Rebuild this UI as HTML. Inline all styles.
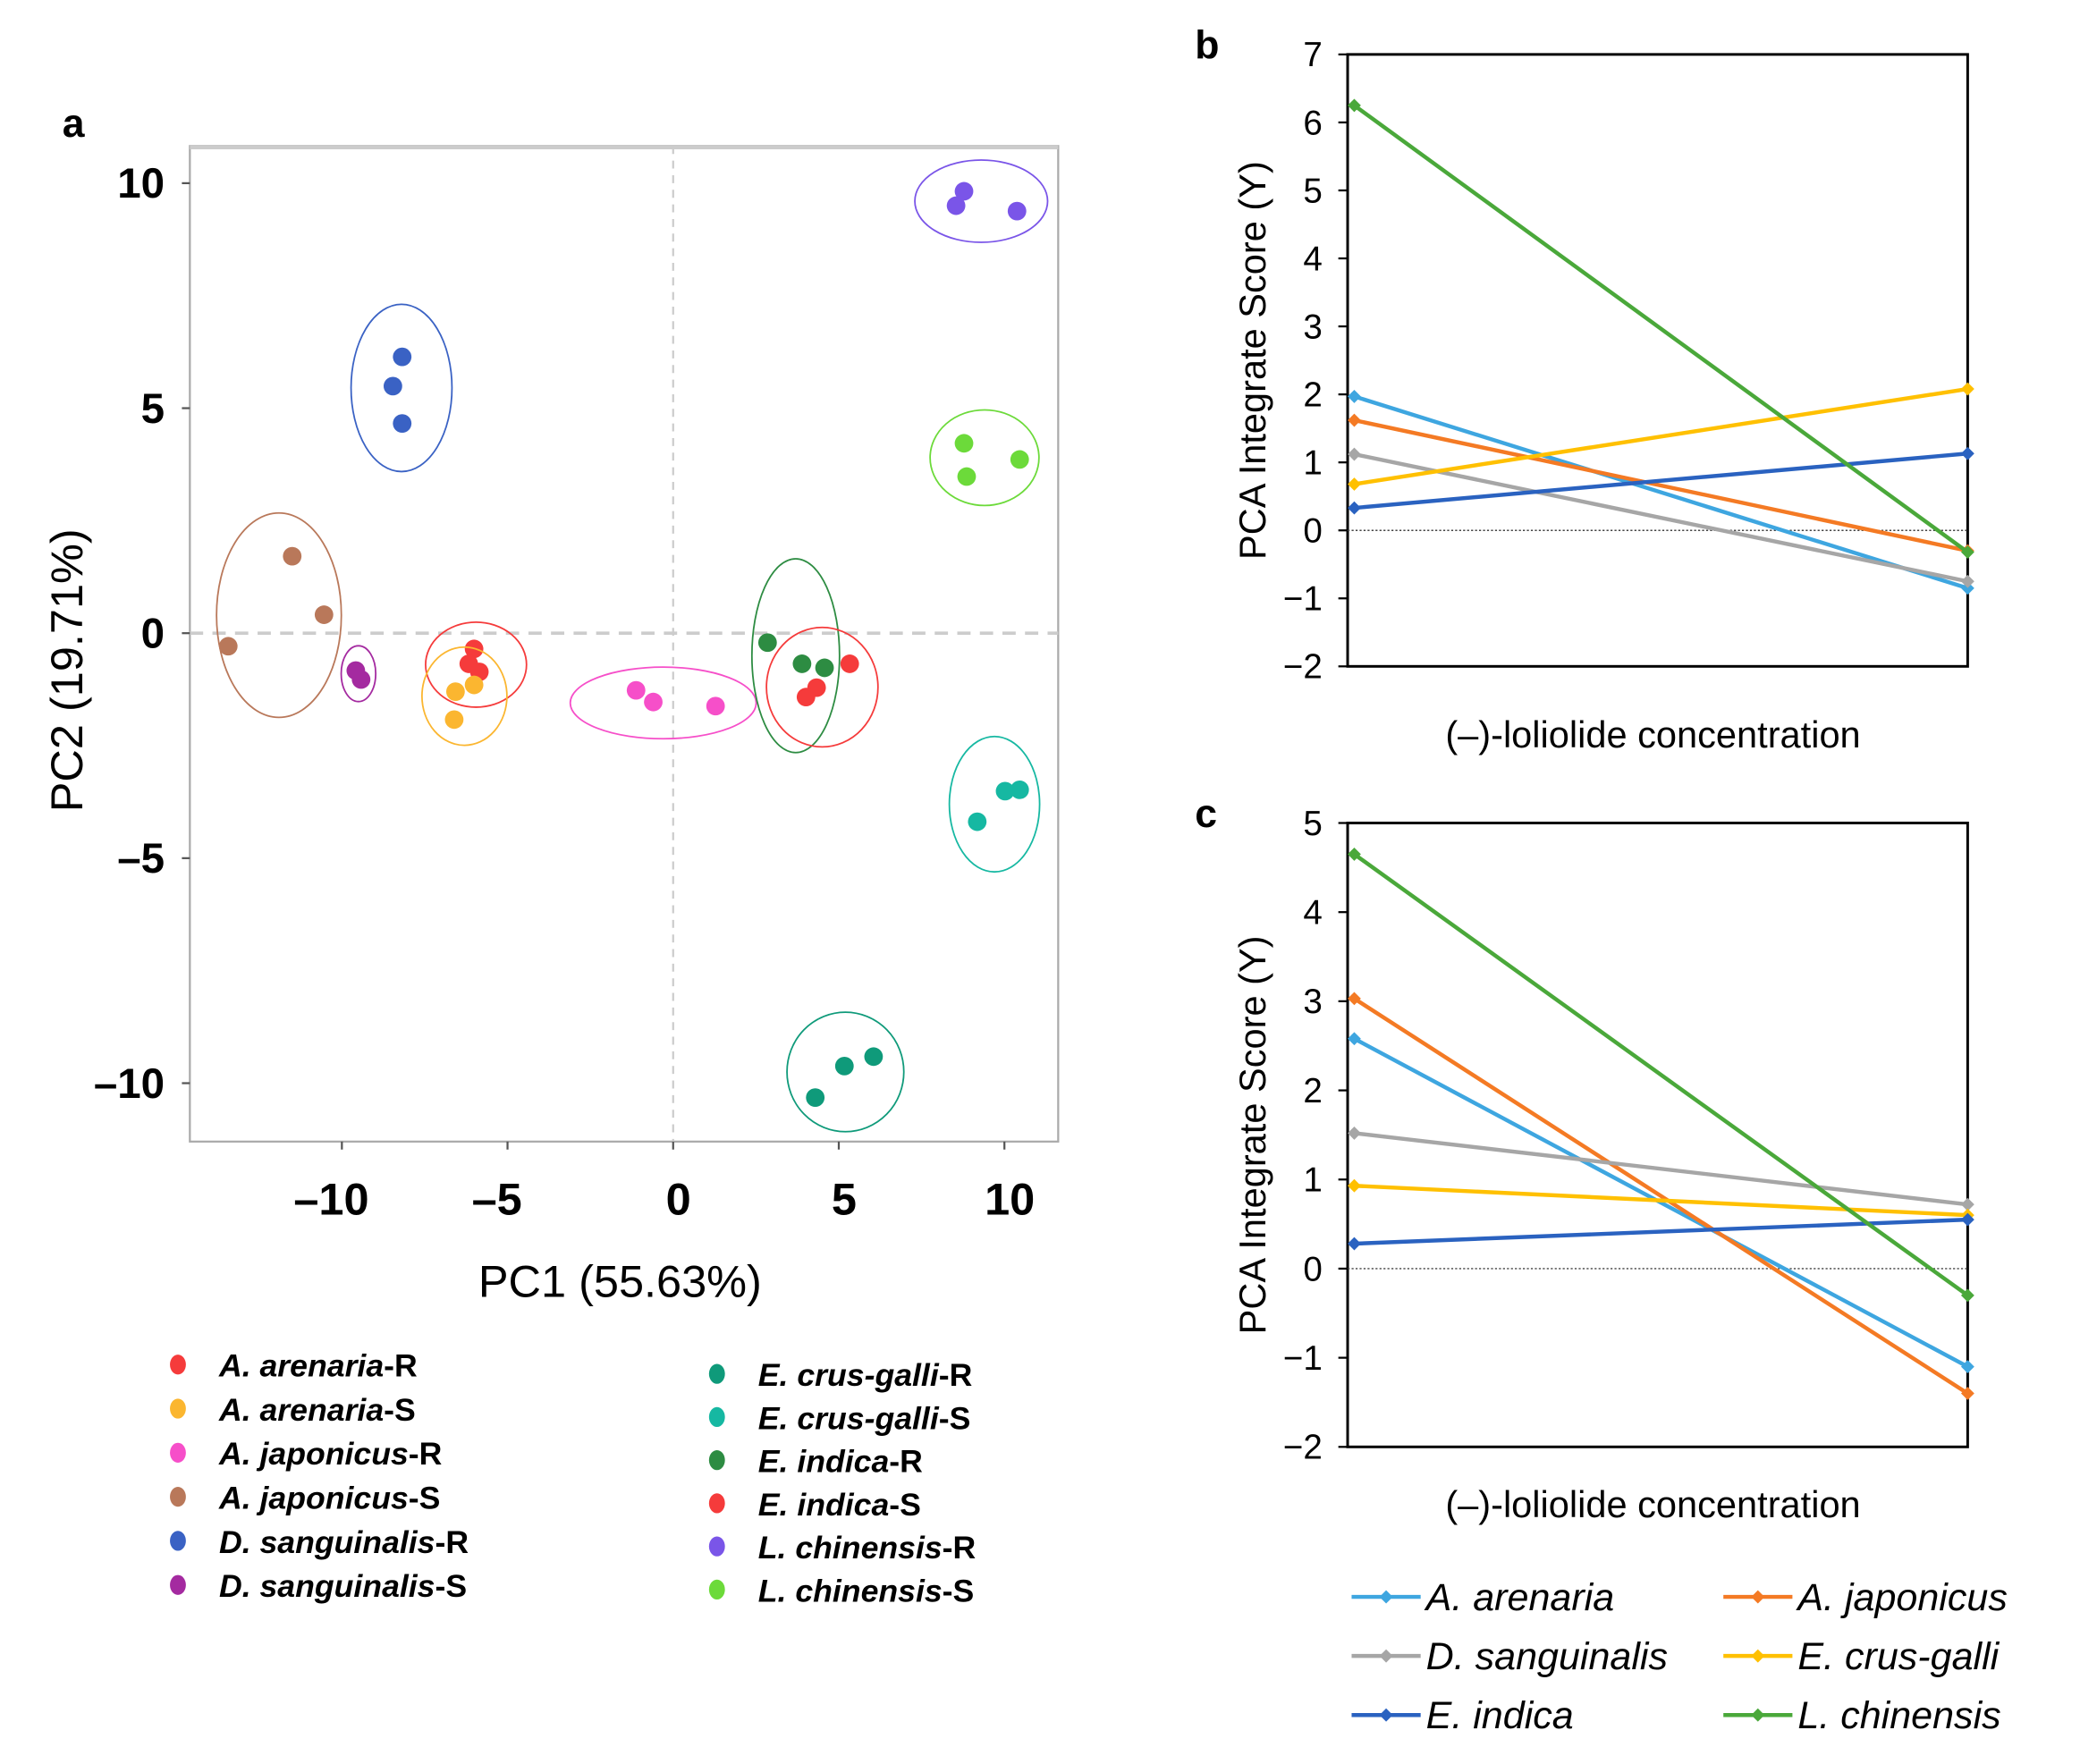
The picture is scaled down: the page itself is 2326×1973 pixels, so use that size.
<!DOCTYPE html>
<html><head><meta charset="utf-8"><style>
html,body{margin:0;padding:0;background:#fff;}
svg{display:block;}
text{font-family:"Liberation Sans",sans-serif;}
</style></head><body>
<svg id="fig" width="2326" height="1973" viewBox="0 0 1566.6 1328.9" preserveAspectRatio="none" xmlns="http://www.w3.org/2000/svg"></svg>
<script>
// ---- Panel a data ----
const groupNames = ["A. arenaria-R","A. arenaria-S","A. japonicus-R","A. japonicus-S","D. sanguinalis-R","D. sanguinalis-S","E. crus-galli-R","E. crus-galli-S","E. indica-R","E. indica-S","L. chinensis-R","L. chinensis-S"];
const groupColors = ["#f53b3b","#fbb630","#f64fc9","#b9785a","#3a62c4","#a42aa0","#0f9a7a","#16b8a2","#2d8c42","#f53b3b","#7a55e8","#6cda3a"];
const pcX = [[-6.01,-6.17,-5.85],[-6.57,-6.01,-6.61],[-1.12,-0.6,1.28],[-11.5,-10.54,-13.43],[-8.18,-8.46,-8.18],[-9.58,-9.42],[4.29,5.17,6.05],[10.02,10.46,9.18],[2.85,3.89,4.57],[5.33,4.33,4.01],[8.78,8.54,10.38],[8.78,10.46,8.86]];
const pcY = [[-0.35,-0.68,-0.86],[-1.3,-1.15,-1.92],[-1.27,-1.53,-1.62],[1.71,0.41,-0.29],[6.14,5.49,4.66],[-0.83,-1.03],[-10.32,-9.62,-9.41],[-3.51,-3.48,-4.19],[-0.21,-0.68,-0.77],[-0.68,-1.21,-1.42],[9.82,9.5,9.38],[4.22,3.86,3.48]];
const ellRx = [38,32,70,47,38,13,44,34,33,42,50,41];
const ellRy = [32,37,27,77,63,21,45,51,73,45,31,36];
const ellCx = [-5.95,-6.3,-0.3,-11.9,-8.2,-9.5,5.2,9.7,3.7,4.5,9.3,9.4];
const ellCy = [-0.7,-1.4,-1.55,0.4,5.45,-0.9,-9.75,-3.8,-0.5,-1.2,9.6,3.9];
const aTicks = [-10,-5,0,5,10];
// ---- Panels b, c data ----
const species = ["A. arenaria","A. japonicus","D. sanguinalis","E. crus-galli","E. indica","L. chinensis"];
const spColors = ["#3ea6e0","#f47a24","#a6a6a6","#ffc000","#2a62c0","#4aa83a"];
const bStart = [1.97,1.62,1.12,0.68,0.33,6.25];
const bEnd = [-0.85,-0.3,-0.75,2.08,1.13,-0.32];
const cStart = [2.58,3.03,1.52,0.93,0.28,4.65];
const cEnd = [-1.1,-1.4,0.72,0.6,0.55,-0.3];
const bTicks = [7,6,5,4,3,2,1,0,-1,-2];
const cTicks = [5,4,3,2,1,0,-1,-2];

const NS="http://www.w3.org/2000/svg";
const svg=document.getElementById('fig');
function el(tag,attrs,parent){const e=document.createElementNS(NS,tag);for(const k in attrs)e.setAttribute(k,attrs[k]);(parent||svg).appendChild(e);return e;}
function txt(s,attrs,parent){const e=el('text',attrs,parent);e.textContent=s;return e;}

// Panel a axes
const ax=v=>507+v*24.95, ay=v=>477-v*33.9;
const gA=el('g',{});


const pl=txt('a',{x:47,y:103,'font-size':30,'font-weight':'bold','font-family':'Liberation Serif'},gA);

const fr=el('rect',{x:143,y:110,width:654,height:750,fill:'none',stroke:'#aaa','stroke-width':1.5},gA);

el('line',{x1:143,y1:111,x2:797,y2:111,stroke:'#ccc','stroke-width':3},gA);
const zx=el('line',{x1:ax(0),y1:110,x2:ax(0),y2:860,stroke:'#ccc','stroke-width':1.5,'stroke-dasharray':'6,5'},gA);

const zy=el('line',{x1:143,y1:ay(0),x2:797,y2:ay(0),stroke:'#ccc','stroke-width':2.5,'stroke-dasharray':'10,7'},gA);

aTicks.forEach(t=>{
  el('line',{x1:ax(t),y1:860,x2:ax(t),y2:866,stroke:'#555','stroke-width':1.5},gA);
  const lx=txt(String(t).replace('-','\u2013'),{x:ax(t)+(t<0?-8:4),y:915,'font-size':34,'font-weight':'bold','text-anchor':'middle'},gA);
  
  el('line',{x1:137,y1:ay(t),x2:143,y2:ay(t),stroke:'#555','stroke-width':1.5},gA);
  const ly=txt(String(t).replace('-','\u2013'),{x:124,y:ay(t)+11,'font-size':32,'font-weight':'bold','text-anchor':'end'},gA);
  
});
const xt=txt('PC1 (55.63%)',{x:467,y:977,'font-size':34,'text-anchor':'middle'},gA);

const yt=txt('PC2 (19.71%)',{x:0,y:0,'font-size':34,'text-anchor':'middle',transform:'translate(62,505) rotate(-90)'},gA);

groupNames.forEach((g,i)=>{
  const e=el('ellipse',{cx:ax(ellCx[i]),cy:ay(ellCy[i]),rx:ellRx[i],ry:ellRy[i],fill:'none',stroke:groupColors[i],'stroke-width':1.2},gA);
  
  pcX[i].forEach((x,j)=>{
    const c=el('circle',{cx:ax(x),cy:ay(pcY[i][j]),r:7,fill:groupColors[i]},gA);
    
  });
  const col=i<6?0:1,row=i%6;
  const lx=col?540:134, ly=col?1035+row*32.5:1028+row*33.2;
  const lg=el('g',{},gA);
  
  el('ellipse',{cx:lx,cy:ly,rx:6,ry:7.5,fill:groupColors[i]},lg);
  const dash=g.lastIndexOf('-');
  const t=txt('',{x:lx+31,y:ly+9,'font-size':24,'font-weight':'bold'},lg);
  const s1=document.createElementNS(NS,'tspan');s1.setAttribute('font-style','italic');s1.textContent=g.slice(0,dash);t.appendChild(s1);
  const s2=document.createElementNS(NS,'tspan');s2.textContent=g.slice(dash);t.appendChild(s2);
});

// Line panels
function linePanel(name,letter,top,bottom,ticks,starts,ends,titleY){
  const g=el('g',{});
  
  
  const maxT=ticks[0],minT=ticks[ticks.length-1];
  const y=v=>top+(maxT-v)*(bottom-top)/(maxT-minT);
  const x0=1020,x1=1482;
  const lb=txt(letter,{x:900,y:top+3,'font-size':30,'font-weight':'bold','font-family':'Liberation Serif'},g);
  
  const f=el('rect',{x:1015,y:top,width:467,height:bottom-top,fill:'none',stroke:'#000','stroke-width':2},g);
  
  const z=el('line',{x1:1015,y1:y(0),x2:1482,y2:y(0),stroke:'#444','stroke-width':1,'stroke-dasharray':'1.5,1.5'},g);
  
  ticks.forEach(t=>{
    el('line',{x1:1008,y1:y(t),x2:1015,y2:y(t),stroke:'#000','stroke-width':1.5},g);
    const l=txt(String(t).replace('-','\u2212'),{x:996,y:y(t)+9,'font-size':26,'text-anchor':'end'},g);
    
  });
  const yt=txt('PCA Integrate Score (Y)',{x:0,y:0,'font-size':28,'text-anchor':'middle',transform:`translate(953,${(top+bottom)/2}) rotate(-90)`},g);
  
  const xt=txt('(\u2013)-loliolide concentration',{x:1245,y:titleY,'font-size':28,'text-anchor':'middle'},g);
  
  species.forEach((s,i)=>{
    const ln=el('line',{x1:x0,y1:y(starts[i]),x2:x1,y2:y(ends[i]),stroke:spColors[i],'stroke-width':3},g);
    
    [[x0,starts[i]],[x1,ends[i]]].forEach(p=>{
      const d=el('path',{d:`M${p[0]-5},${y(p[1])} L${p[0]},${y(p[1])-5} L${p[0]+5},${y(p[1])} L${p[0]},${y(p[1])+5}Z`,fill:spColors[i]},g);
      
    });
  });
}
linePanel('line-chart-b','b',41,502,bTicks,bStart,bEnd,563);
linePanel('line-chart-c','c',620,1090,cTicks,cStart,cEnd,1143);

// shared legend
const gl=el('g',{});


species.forEach((s,i)=>{
  const col=i%2,row=Math.floor(i/2);
  const lx=col?1298:1018, ly=1203+row*44.5;
  const e=el('g',{},gl);
  
  el('line',{x1:lx,y1:ly,x2:lx+52,y2:ly,stroke:spColors[i],'stroke-width':3},e);
  el('path',{d:`M${lx+21},${ly} L${lx+26},${ly-5} L${lx+31},${ly} L${lx+26},${ly+5}Z`,fill:spColors[i]},e);
  txt(s,{x:lx+56,y:ly+10,'font-size':29,'font-style':'italic'},e);
});
</script>
</body></html>
